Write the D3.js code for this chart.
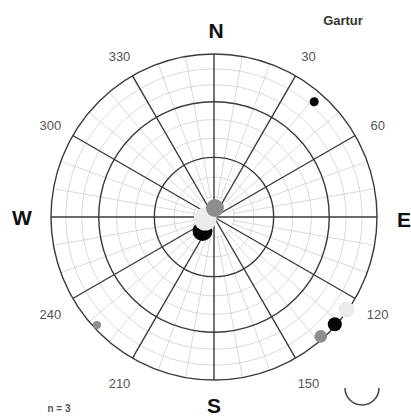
<!DOCTYPE html>
<html>
<head>
<meta charset="utf-8">
<script src="https://cdn.jsdelivr.net/npm/d3@7"></script>
<style>
  html, body { margin: 0; padding: 0; background: #fff; }
  svg { display: block; font-family: "Liberation Sans", Arial, sans-serif; }
</style>
</head>
<body>
<svg id="net" width="411" height="416"></svg>
<script>
// site + sample count
const siteName = "Gartur";
const sampleCount = 3;

// compass letters and azimuth tick labels (degrees)
const compass = [
  { label: "N", az: 0 },
  { label: "E", az: 90 },
  { label: "S", az: 180 },
  { label: "W", az: 270 },
];
const azTicks = [30, 60, 120, 150, 210, 240, 300, 330];

// grid (degrees from vertical): heavy circles + fine circles
const heavyRings = [30, 60, 90];
const fineRings = [10, 20, 40, 50, 70, 80];

// axis orientations, azimuth / plunge in degrees
const blackAxes = [
  { axis: "k1", az: 219.4, pl: 81 },
  { axis: "k2", az: 131.6, pl: 1 },
  { axis: "k3", az: 41, pl: 7 },
];
const lightAxes = [
  { axis: "k1", az: 257, pl: 85.5 },
  { axis: "k2", az: 125, pl: 1 },
];
const grayAxes = [
  { axis: "k1", az: 6, pl: 85.5 },
  { axis: "k2", az: 138.2, pl: 2 },
  { axis: "k3", az: 227.3, pl: 2.6 },
];

const svg = d3.select("#net");
const cx = 214, cy = 217, R = 163;
const g = svg.append("g").attr("transform", `translate(${cx},${cy})`);

// equal-area (Schmidt) projection
const rad = d3.scaleLinear().domain([0, 360]).range([0, 2 * Math.PI]);
const rOf = a => R * Math.SQRT2 * Math.sin((a / 2) * Math.PI / 180); // a = angle from vertical
const proj = d => d3.pointRadial(rad(d.az), rOf(90 - d.pl));

// fine grid
g.selectAll(".fineRing").data(fineRings).join("circle")
  .attr("r", d => rOf(d))
  .attr("fill", "none").attr("stroke", "#cfcfcf").attr("stroke-width", 0.8);

const fineSpokes = d3.range(0, 360, 10).filter(a => a % 30 !== 0);
g.selectAll(".fineSpoke").data(fineSpokes).join("line")
  .each(function (a) {
    const p0 = d3.pointRadial(rad(a), rOf(10));
    const p1 = d3.pointRadial(rad(a), R);
    d3.select(this).attr("x1", p0[0]).attr("y1", p0[1]).attr("x2", p1[0]).attr("y2", p1[1]);
  })
  .attr("stroke", "#cfcfcf").attr("stroke-width", 0.8);

// heavy grid
const heavySpokes = d3.range(0, 360, 30);
g.selectAll(".heavySpoke").data(heavySpokes).join("line")
  .each(function (a) {
    const p1 = d3.pointRadial(rad(a), R);
    d3.select(this).attr("x1", 0).attr("y1", 0).attr("x2", p1[0]).attr("y2", p1[1]);
  })
  .attr("stroke", "#3a3a3a").attr("stroke-width", 1.4);

g.selectAll(".heavyRing").data(heavyRings).join("circle")
  .attr("r", d => rOf(d))
  .attr("fill", "none").attr("stroke", "#3a3a3a").attr("stroke-width", 1.4);

// symbols
const symR = { k1: 10, k2: 7, k3: 4.5 };
const sets = [
  { data: blackAxes, fill: "#050505", scale: 1 },
  { data: lightAxes, fill: "#ebebeb", scale: 1.15 },
  { data: grayAxes, fill: "#8e8e8e", scale: 0.9 },
];
sets.forEach(s => {
  g.selectAll(null).data(s.data).join("circle")
    .attr("cx", d => proj(d)[0])
    .attr("cy", d => proj(d)[1])
    .attr("r", d => symR[d.axis] * s.scale)
    .attr("fill", s.fill);
});

// azimuth labels
g.selectAll(".azTick").data(azTicks).join("text")
  .attr("x", a => d3.pointRadial(rad(a), 189)[0])
  .attr("y", a => d3.pointRadial(rad(a), 189)[1] + 3)
  .attr("text-anchor", "middle").attr("dominant-baseline", "central")
  .attr("font-size", 13).attr("fill", "#555")
  .text(a => a);

// compass letters
const compassPos = { N: [2, -187], S: [0, 188], W: [-192, 0], E: [190, 2] };
g.selectAll(".compass").data(compass).join("text")
  .attr("x", d => compassPos[d.label][0])
  .attr("y", d => compassPos[d.label][1])
  .attr("text-anchor", "middle").attr("dominant-baseline", "central")
  .attr("font-size", 21).attr("font-weight", "bold").attr("fill", "#111")
  .text(d => d.label);

// site name + n
svg.append("text").attr("x", 343).attr("y", 20)
  .attr("text-anchor", "middle").attr("dominant-baseline", "central")
  .attr("font-size", 13).attr("font-weight", "bold").attr("fill", "#333")
  .text(siteName);

svg.append("text").attr("x", 59).attr("y", 408)
  .attr("text-anchor", "middle").attr("dominant-baseline", "central")
  .attr("font-size", 10).attr("font-weight", "bold").attr("fill", "#555")
  .text(`n = ${sampleCount}`);

// small lower-half arc symbol
const arc = d3.arc().innerRadius(17).outerRadius(17).startAngle(Math.PI / 2).endAngle(3 * Math.PI / 2);
svg.append("path").attr("transform", "translate(362,388)")
  .attr("d", arc()).attr("fill", "none").attr("stroke", "#444").attr("stroke-width", 1.5);
</script>
</body>
</html>
